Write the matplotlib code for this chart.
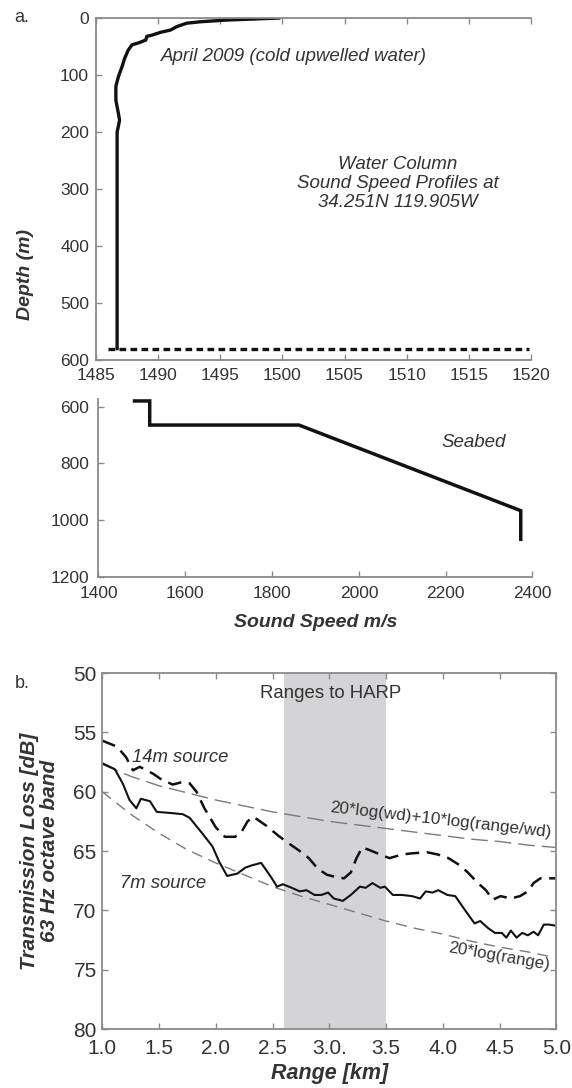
import numpy as np
import matplotlib
matplotlib.use("Agg")
import matplotlib.pyplot as plt

plt.rcParams['font.family'] = ['Liberation Sans', 'DejaVu Sans']

# ---- panel a: water column sound speed profile (April 2009)
wc_depth = [0, 3.5, 6.5, 9, 15, 21, 25, 30, 32, 38.6, 43, 47, 56, 71, 85, 103,
            120, 144, 167, 179, 190, 200, 580]
wc_speed = [1499.7, 1495.5, 1493.4, 1492.3, 1491.5, 1491.0, 1490.2, 1489.5,
            1489.1, 1489.0, 1488.5, 1487.9, 1487.6, 1487.3, 1487.1, 1486.8,
            1486.6, 1486.6, 1486.8, 1486.9, 1486.8, 1486.7, 1486.7]
water_depth = 580
bottom_line_x = [1486.0, 1519.8]

# ---- seabed profile
sb_speed = [1483, 1518, 1518, 1862, 2373, 2373]
sb_depth = [580, 580, 665, 665, 967, 1068]

# ---- panel b: transmission loss, 63 Hz octave band
rng_7m = [1.0, 1.11, 1.18, 1.24, 1.30, 1.34, 1.42, 1.48, 1.61, 1.71, 1.77, 1.88,
          1.97, 2.03, 2.10, 2.19, 2.26, 2.32, 2.40, 2.48, 2.54, 2.59, 2.67, 2.74,
          2.80, 2.87, 2.93, 2.99, 3.04, 3.12, 3.19, 3.27, 3.32, 3.38, 3.45, 3.49,
          3.56, 3.64, 3.73, 3.80, 3.85, 3.91, 3.96, 4.04, 4.11, 4.19, 4.28, 4.33,
          4.40, 4.46, 4.52, 4.56, 4.60, 4.65, 4.70, 4.75, 4.80, 4.84, 4.89, 4.94,
          5.0]
tl_7m = [57.6, 58.1, 59.3, 60.7, 61.4, 60.6, 60.8, 61.7, 61.8, 61.9, 62.2, 63.5,
         64.6, 65.9, 67.1, 66.9, 66.4, 66.2, 66.0, 67.1, 68.0, 67.8, 68.1, 68.4,
         68.3, 68.7, 68.7, 68.5, 69.0, 69.2, 68.7, 68.0, 68.1, 67.7, 68.1, 68.0,
         68.7, 68.7, 68.8, 69.0, 68.4, 68.5, 68.3, 68.7, 68.8, 69.9, 71.1, 70.9,
         71.5, 71.9, 71.9, 72.3, 71.7, 72.3, 71.9, 72.1, 71.8, 72.1, 71.2, 71.2,
         71.3]

rng_14m = [1.0, 1.13, 1.21, 1.27, 1.33, 1.45, 1.51, 1.62, 1.70, 1.77, 1.83,
           1.90, 2.00, 2.08, 2.17, 2.22, 2.28, 2.33, 2.45, 2.55, 2.65, 2.74,
           2.82, 2.90, 2.98, 3.06, 3.13, 3.19, 3.24, 3.29, 3.35, 3.45, 3.53,
           3.64, 3.72, 3.86, 3.96, 4.05, 4.15, 4.22, 4.31, 4.38, 4.44, 4.51,
           4.60, 4.68, 4.75, 4.80, 4.86, 5.0]
tl_14m = [55.7, 56.2, 57.1, 58.2, 57.9, 58.5, 58.9, 59.4, 59.2, 59.3, 60.0,
          61.4, 63.0, 63.8, 63.8, 63.5, 62.5, 62.1, 62.9, 63.7, 64.4, 65.0,
          65.6, 66.5, 67.0, 67.2, 67.3, 66.8, 65.6, 64.7, 64.9, 65.3, 65.6,
          65.3, 65.2, 65.1, 65.3, 65.6, 66.2, 66.8, 67.7, 68.3, 69.1, 68.8,
          69.0, 68.8, 68.4, 67.7, 67.3, 67.3]

# reference curves
rng_ref = [1.0, 1.25, 1.5, 1.75, 2.0, 2.25, 2.5, 2.75, 3.0, 3.25, 3.5, 3.75,
           4.0, 4.25, 4.5, 4.75, 5.0]
tl_spherical = [60.0, 61.9, 63.5, 64.9, 66.0, 67.0, 68.0, 68.8, 69.5, 70.2,
                70.9, 71.5, 72.0, 72.6, 73.1, 73.5, 74.0]
tl_cylindrical = [57.7, 58.7, 59.5, 60.1, 60.7, 61.2, 61.7, 62.1, 62.5, 62.8,
                  63.1, 63.4, 63.7, 64.0, 64.2, 64.5, 64.7]
harp_span = [2.6, 3.5]

tl_ticks = [50, 55, 60, 65, 70, 75, 80]
rng_ticks = [1.0, 1.5, 2.0, 2.5, 3.0, 3.5, 4.0, 4.5, 5.0]
rng_ticklabels = ['1.0', '1.5', '2.0', '2.5', '3.0.', '3.5', '4.0', '4.5', '5.0']

spine_col = '#8a8a8a'
txt_col = '#333333'
line_col = '#111111'

fig = plt.figure(figsize=(5.72, 10.88), dpi=100)


def style_axis(ax, sides, labelsize, xpad, ypad):
    for s in ['top', 'bottom', 'left', 'right']:
        ax.spines[s].set_visible(s in sides)
        ax.spines[s].set_color(spine_col)
        ax.spines[s].set_linewidth(1.3)
    ax.tick_params(direction='in', length=4, width=1, color=spine_col,
                   labelsize=labelsize, labelcolor=txt_col,
                   top='top' in sides, right='right' in sides)
    ax.tick_params(axis='x', pad=xpad)
    ax.tick_params(axis='y', pad=ypad)


# ---- panel a
ax1 = fig.add_axes([0.1678, 0.6691, 0.7605, 0.3143])
ax1.plot(wc_speed, wc_depth, color=line_col, lw=2.4, solid_joinstyle='miter')
ax1.plot(bottom_line_x, [water_depth, water_depth], color=line_col, lw=2.4,
         dashes=(2.0, 1.3))
ax1.set_xlim(1485, 1520)
ax1.set_ylim(600, 0)
ax1.set_xticks(np.arange(1485, 1521, 5))
ax1.set_yticks(np.arange(0, 601, 100))
style_axis(ax1, ['top', 'bottom', 'left'], 12.5, 6, 5)
ax1.tick_params(labeltop=False)
ax1.text(1490.2, 67, 'April 2009 (cold upwelled water)', style='italic',
         fontsize=13.5, color=txt_col, va='center', ha='left')
ax1.text(1509.3, 290, 'Water Column\nSound Speed Profiles at\n34.251N 119.905W',
         style='italic', fontsize=13.5, color=txt_col, va='center', ha='center',
         linespacing=1.18)

# ---- seabed panel
ax2 = fig.add_axes([0.1722, 0.4699, 0.7587, 0.1634])
ax2.plot(sb_speed, sb_depth, color=line_col, lw=2.5, solid_joinstyle='miter')
ax2.set_xlim(1400, 2400)
ax2.set_ylim(1200, 573)
ax2.set_xticks([1400, 1600, 1800, 2000, 2200, 2400])
ax2.set_yticks([600, 800, 1000, 1200])
style_axis(ax2, ['bottom', 'left'], 12.5, 7, 7)
ax2.text(2265, 728, 'Seabed', style='italic', fontsize=13.5, color=txt_col,
         va='center', ha='center')
ax2.set_xlabel('Sound Speed m/s', fontsize=14, fontweight='bold',
               style='italic', color=txt_col, labelpad=9)

fig.text(25 / 572, 1 - 274 / 1088, 'Depth (m)', rotation=90, fontsize=14,
         fontweight='bold', style='italic', color=txt_col, ha='center',
         va='center')
fig.text(14 / 572, 1 - 18 / 1088, 'a.', fontsize=13, color=txt_col,
         ha='left', va='center')

# ---- panel b
ax3 = fig.add_axes([0.1788, 0.0542, 0.7937, 0.3272])
ax3.axvspan(harp_span[0], harp_span[1], color='#d4d4d6', lw=0, zorder=0)
ax3.plot(rng_ref, tl_cylindrical, color='#7a7a7a', lw=1.0, dashes=(12, 5))
ax3.plot(rng_ref, tl_spherical, color='#7a7a7a', lw=1.0, dashes=(8, 5))
ax3.plot(rng_14m, tl_14m, color=line_col, lw=1.8, dashes=(5.5, 3.0))
ax3.plot(rng_7m, tl_7m, color=line_col, lw=1.5)
ax3.set_xlim(1, 5)
ax3.set_ylim(80, 50)
ax3.set_xticks(rng_ticks)
ax3.set_xticklabels(rng_ticklabels)
ax3.set_yticks(tl_ticks)
style_axis(ax3, ['top', 'bottom', 'left', 'right'], 15, 7, 4)
ax3.text(3.01, 51.7, 'Ranges to HARP', fontsize=13.4, color=txt_col,
         ha='center', va='center')
ax3.text(1.26, 57.1, '14m source', style='italic', fontsize=13.3,
         color=txt_col, ha='left', va='center')
ax3.text(1.16, 67.7, '7m source', style='italic', fontsize=13.3,
         color=txt_col, ha='left', va='center')
ax3.text(3.98, 62.4, '20*log(wd)+10*log(range/wd)', fontsize=12.3,
         color=txt_col, ha='center', va='center', rotation=-6.5)
ax3.text(4.5, 73.9, '20*log(range)', fontsize=12.2, color=txt_col,
         ha='center', va='center', rotation=-10)
ax3.set_xlabel('Range [km]', fontsize=15.5, fontweight='bold', style='italic',
               color=txt_col, labelpad=4)
ax3.set_ylabel('Transmission Loss [dB]\n63 Hz octave band', fontsize=15,
               fontweight='bold', style='italic', color=txt_col,
               linespacing=1.1, labelpad=10)
fig.text(15 / 572, 1 - 684 / 1088, 'b.', fontsize=13, color=txt_col,
         ha='left', va='center')

fig.savefig('out.png', dpi=100)
